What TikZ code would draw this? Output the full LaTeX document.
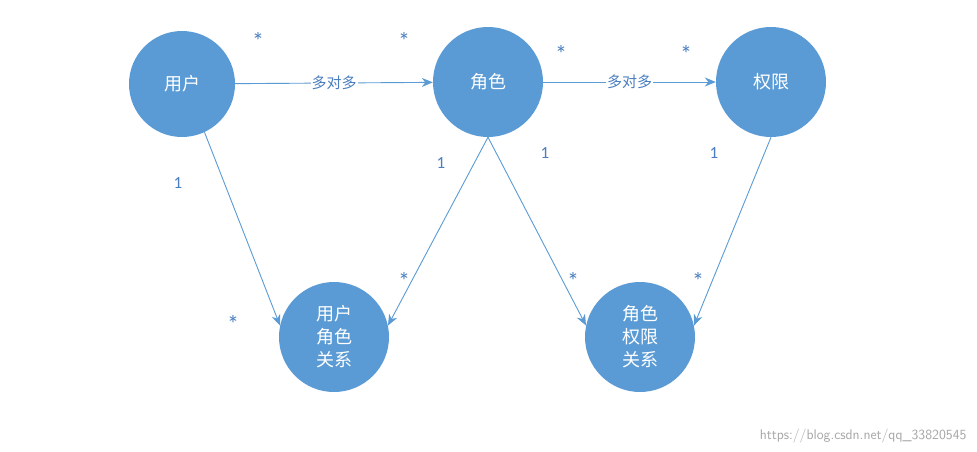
\documentclass[tikz,border=0pt]{standalone}
\usepackage{fontspec}
\setmainfont{Carlito}
\newfontfamily\cjk{Noto Sans CJK SC}
\usetikzlibrary{arrows.meta}
\definecolor{nodeblue}{HTML}{5B9BD5}
\definecolor{lblue}{HTML}{4A7EC0}
\tikzset{
  ent/.style={circle,fill=nodeblue,text=white,minimum size=110pt,inner sep=0pt,font=\cjk\fontsize{18}{23}\selectfont,align=center},
  conn/.style={draw=nodeblue,line width=0.9pt,-{Stealth[length=11pt,width=9pt]}},
  mult/.style={text=lblue,font=\fontsize{17}{17}\selectfont},
  star/.style={text=lblue,font=\fontsize{24}{24}\selectfont,yshift=-4pt},
  elab/.style={fill=white,text=lblue,font=\cjk\fontsize{15}{15}\selectfont,inner sep=1pt}
}
\begin{document}
\begin{tikzpicture}[x=1pt,y=-1pt]
\useasboundingbox[fill=white] (0,0) rectangle (977,452);
\node[ent,minimum size=106pt] (u) at (182,84) {用户};
\node[ent] (r) at (488,82) {角色};
\node[ent] (p) at (771,82) {权限};
\node[ent] (ur) at (334,337) {用户\\角色\\关系};
\node[ent] (rp) at (640,337) {角色\\权限\\关系};
\draw[conn] (u) -- node[elab]{多对多} (r);
\draw[conn] (r) -- node[elab]{多对多} (p);
\draw[conn] (u.-65) -- (ur.168);
\draw[conn] (r.-90) -- (ur.12);
\draw[conn] (r.-90) -- (rp.168);
\draw[conn] (p.-90) -- (rp.12);
\node[star] (m1) at (258,37) {*};
\node[star] (m2) at (404,37) {*};
\node[star] (m3) at (561,50) {*};
\node[star] (m4) at (686,50) {*};
\node[star] (m5) at (233,320) {*};
\node[star] (m6) at (404,277) {*};
\node[star] (m7) at (573,277) {*};
\node[star] (m8) at (698,277) {*};
\node[mult] (o1) at (178,183) {1};
\node[mult] (o2) at (441,163) {1};
\node[mult] (o3) at (545,153) {1};
\node[mult] (o4) at (714,153) {1};
\node[text=gray!70,font=\fontsize{14}{14}\selectfont\sffamily,anchor=east] (url) at (970,436) {https://blog.csdn.net/qq\_33820545};
\end{tikzpicture}
\end{document}
